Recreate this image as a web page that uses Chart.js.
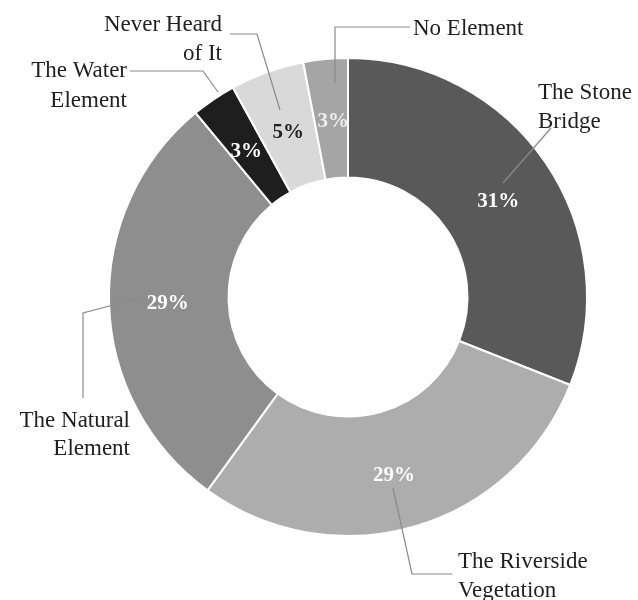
<!DOCTYPE html>
<html>
<head>
<meta charset="utf-8">
<script src="https://cdn.jsdelivr.net/npm/chart.js@4"></script>
<style>
  html, body { margin: 0; padding: 0; background: #fff; }
  #wrap { width: 638px; height: 600px; }
</style>
</head>
<body>
<div id="wrap"><canvas id="donutChrt"></canvas></div>
<script>
// data
var categories = [
  ['The Stone', 'Bridge'],
  ['The Riverside', 'Vegetation'],
  ['The Natural', 'Element'],
  ['The Water', 'Element'],
  ['Never Heard', 'of It'],
  ['No Element']
]
var shares = [31, 29, 29, 3, 5, 3]
var sliceColors = ['#595959', '#adadad', '#8e8e8e', '#1e1e1e', '#d9d9d9', '#a5a5a5']
var pctColors = ['#ffffff', '#ffffff', '#ffffff', '#ffffff', '#222222', '#eeeeee']

// where the callouts go, relative to the chart centre
var callouts = [
  {align: 'left',  tx: 190,  ty: [-198, -169], pts: [[155, -114], [203, -169]]},
  {align: 'left',  tx: 110,  ty: [271, 300],   pts: [[45, 191], [64, 277], [104, 277]]},
  {align: 'right', tx: -218, ty: [130, 158],   pts: [[-208, 1], [-265, 16], [-265, 101]]},
  {align: 'right', tx: -221, ty: [-220, -190], pts: [[-130, -205], [-145, -226], [-218, -226]]},
  {align: 'right', tx: -126, ty: [-266, -237], pts: [[-68, -187], [-91, -263], [-118, -263]]},
  {align: 'left',  tx: 65,   ty: [-262],       pts: [[-13, -214], [-13, -270], [62, -270]]}
]
var pctNudge = [[2, 5], [-4, 6], [-1, 1], [-1, 3], [1, 4], [2, 3]]

const CalloutPlugin = {
  id: 'CalloutPlugin',
  afterDatasetsDraw(chart) {
    const {ctx} = chart
    const arcs = chart.getDatasetMeta(0).data
    const cx = arcs[0].x, cy = arcs[0].y
    ctx.save()
    // leader lines
    ctx.strokeStyle = '#8a8a8a'
    ctx.lineWidth = 1.2
    callouts.forEach(c => {
      ctx.beginPath()
      c.pts.forEach((p, i) => {
        if (i === 0) ctx.moveTo(cx + p[0], cy + p[1])
        else ctx.lineTo(cx + p[0], cy + p[1])
      })
      ctx.stroke()
    })
    // category text
    ctx.fillStyle = '#1f1f1f'
    ctx.font = '23px "Liberation Serif", "DejaVu Serif", serif'
    ctx.textBaseline = 'alphabetic'
    callouts.forEach((c, i) => {
      ctx.textAlign = c.align
      categories[i].forEach((line, j) => {
        ctx.fillText(line, cx + c.tx, cy + c.ty[j])
      })
    })
    // percentages
    ctx.font = 'bold 21px "Liberation Serif", "DejaVu Serif", serif'
    ctx.textAlign = 'center'
    ctx.textBaseline = 'middle'
    arcs.forEach((arc, i) => {
      const pos = arc.tooltipPosition()
      ctx.fillStyle = pctColors[i]
      ctx.fillText(shares[i] + '%', pos.x + pctNudge[i][0], pos.y + pctNudge[i][1])
    })
    ctx.restore()
  }
}

const _config = {
  type: 'doughnut',
  data: {
    labels: categories.map(c => c.join(' ')),
    datasets: [{
      data: shares,
      backgroundColor: sliceColors,
      borderColor: '#ffffff',
      borderWidth: 2,
      hoverOffset: 0
    }]
  },
  plugins: [CalloutPlugin],
  options: {
    responsive: true,
    maintainAspectRatio: false,
    animation: false,
    cutout: '50%',
    layout: {padding: {top: 57, bottom: 63, left: 108, right: 50}},
    plugins: {
      legend: {display: false},
      tooltip: {enabled: false}
    }
  }
}

const myChart = new Chart(document.getElementById('donutChrt'), _config)
</script>
</body>
</html>
